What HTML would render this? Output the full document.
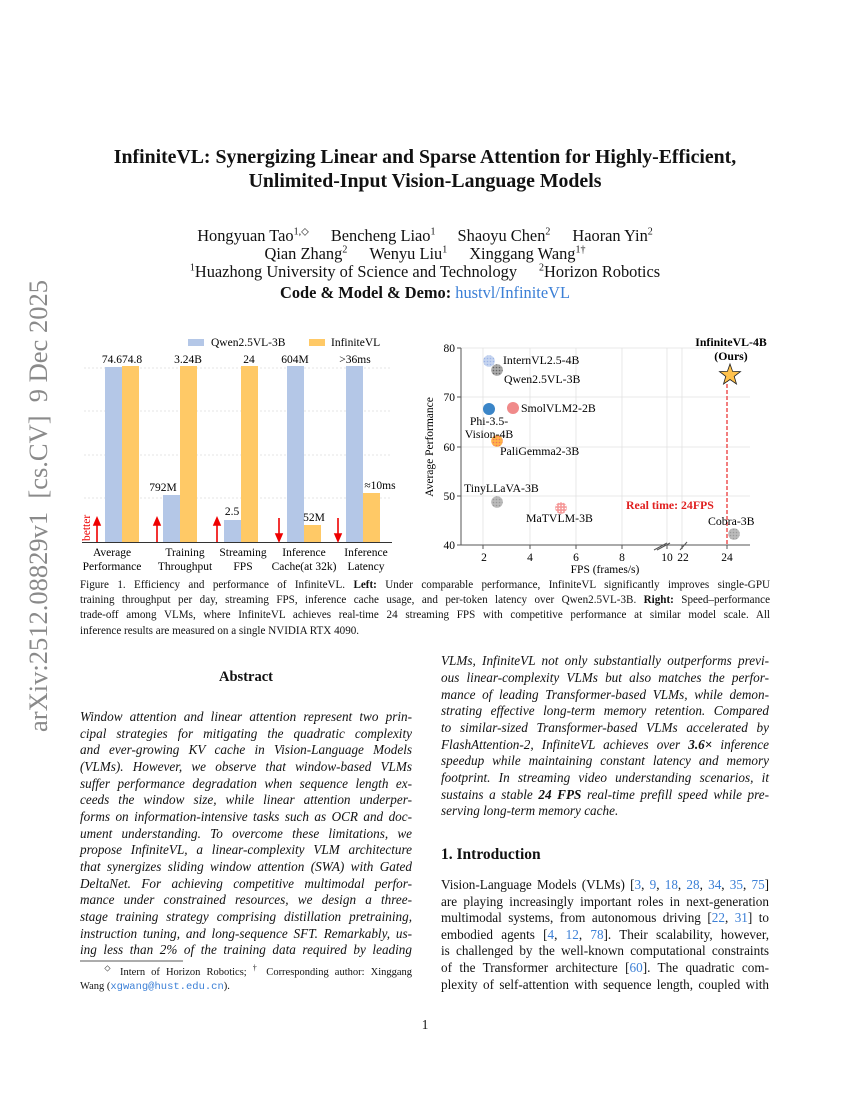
<!DOCTYPE html>
<html><head><meta charset="utf-8"><style>
html,body{margin:0;padding:0;background:#fff}
body{width:850px;height:1100px;position:relative;overflow:hidden;font-family:"Liberation Serif",serif;color:#111}
.l{position:absolute;line-height:16px;font-size:13.2px;white-space:nowrap}
.j{text-align:justify;text-align-last:justify}
.c{text-align:center}
.i{font-style:italic}
.L{left:80px;width:332px}
.R{left:441px;width:328px}
.cap{position:absolute;left:80px;width:690px;font-size:11.1px;line-height:15px;white-space:nowrap}
a,.b{color:#3b7fd6}
sup{font-size:10px;line-height:0}
.g{display:inline-block;width:22px}
</style></head><body>
<div class="l c" style="left:0;width:850px;top:145px;font-size:19.8px;line-height:24px;font-weight:bold">InfiniteVL: Synergizing Linear and Sparse Attention for Highly-Efficient,</div>
<div class="l c" style="left:0;width:850px;top:169px;font-size:19.8px;line-height:24px;font-weight:bold">Unlimited-Input Vision-Language Models</div>
<div class="l c" style="left:0;width:850px;top:226px;font-size:16.4px;line-height:19px">Hongyuan Tao<sup>1,◇</sup><span class="g"></span>Bencheng Liao<sup>1</sup><span class="g"></span>Shaoyu Chen<sup>2</sup><span class="g"></span>Haoran Yin<sup>2</sup></div>
<div class="l c" style="left:0;width:850px;top:244px;font-size:16.4px;line-height:19px">Qian Zhang<sup>2</sup><span class="g"></span>Wenyu Liu<sup>1</sup><span class="g"></span>Xinggang Wang<sup>1†</sup></div>
<div class="l c" style="left:0;width:850px;top:262px;font-size:16.4px;line-height:19px"><sup>1</sup>Huazhong University of Science and Technology<span class="g"></span><sup>2</sup>Horizon Robotics</div>
<div class="l c" style="left:0;width:850px;top:283px;font-size:16.4px;line-height:19px"><b>Code &amp; Model &amp; Demo:</b> <span class="b">hustvl/InfiniteVL</span></div>

<div style="position:absolute;left:38px;top:506px;width:0;height:0">
<div style="position:absolute;transform:translate(-50%,-50%) rotate(-90deg);white-space:nowrap;font-size:26.5px;color:#8a8a8a;line-height:30px">arXiv:2512.08829v1&nbsp; [cs.CV]&nbsp; 9 Dec 2025</div></div>

<svg width="850" height="1100" style="position:absolute;left:0;top:0" font-family="Liberation Serif, serif">
<defs>
<pattern id="dg" width="3" height="3" patternUnits="userSpaceOnUse"><rect width="3" height="3" fill="#aaa"/><circle cx="1.5" cy="1.5" r="0.8" fill="#666"/></pattern>
<pattern id="db" width="3" height="3" patternUnits="userSpaceOnUse"><rect width="3" height="3" fill="#c6d5f0"/><circle cx="1.5" cy="1.5" r="0.8" fill="#9db5e6"/></pattern>
<pattern id="dp" width="3" height="3" patternUnits="userSpaceOnUse"><rect width="3" height="3" fill="#f59a9a"/><circle cx="1.5" cy="1.5" r="0.8" fill="#fff"/></pattern>
<pattern id="do" width="3" height="3" patternUnits="userSpaceOnUse"><rect width="3" height="3" fill="#ffb347"/><circle cx="1.5" cy="1.5" r="0.8" fill="#f07060"/></pattern>
<pattern id="dc" width="3" height="3" patternUnits="userSpaceOnUse"><rect width="3" height="3" fill="#bbb"/><circle cx="1.5" cy="1.5" r="0.8" fill="#999"/></pattern>
</defs>
<rect x="188" y="339" width="16" height="7" fill="#b4c7e7"/><text x="211" y="346" font-size="11.5">Qwen2.5VL-3B</text>
<rect x="309" y="339" width="16" height="7" fill="#ffc966"/><text x="331" y="346" font-size="11.5">InfiniteVL</text>
<g stroke="#ddd" stroke-dasharray="2,2" stroke-width="0.8">
<line x1="84" x2="392" y1="368" y2="368"/><line x1="84" x2="392" y1="411" y2="411"/><line x1="84" x2="392" y1="455" y2="455"/><line x1="84" x2="392" y1="498" y2="498"/></g>
<g fill="#b4c7e7"><rect x="105" y="367" width="17" height="175"/><rect x="163" y="495" width="17" height="47"/><rect x="224" y="520" width="17" height="22"/><rect x="287" y="366" width="17" height="176"/><rect x="346" y="366" width="17" height="176"/></g>
<g fill="#ffc966"><rect x="122" y="366" width="17" height="176"/><rect x="180" y="366" width="17" height="176"/><rect x="241" y="366" width="17" height="176"/><rect x="304" y="525" width="17" height="17"/><rect x="363" y="493" width="17" height="49"/></g>
<line x1="82" x2="392" y1="542.5" y2="542.5" stroke="#333" stroke-width="1"/>
<g font-size="11.5" text-anchor="middle"><text x="122" y="363">74.674.8</text><text x="188" y="363">3.24B</text><text x="249" y="363">24</text><text x="295" y="363">604M</text><text x="355" y="363">&gt;36ms</text>
<text x="163" y="491">792M</text><text x="232" y="515">2.5</text><text x="314" y="521">52M</text><text x="380" y="489">≈10ms</text>
<text x="112" y="556">Average</text><text x="112" y="570">Performance</text><text x="185" y="556">Training</text><text x="185" y="570">Throughput</text><text x="243" y="556">Streaming</text><text x="243" y="570">FPS</text><text x="304" y="556">Inference</text><text x="304" y="570">Cache(at 32k)</text><text x="366" y="556">Inference</text><text x="366" y="570">Latency</text></g>
<g stroke="#e00" stroke-width="1.6" fill="#e00">
<line x1="97" y1="542" x2="97" y2="524"/><path d="M94,525 L97,518 L100,525Z"/>
<line x1="157" y1="542" x2="157" y2="524"/><path d="M154,525 L157,518 L160,525Z"/>
<line x1="217" y1="542" x2="217" y2="524"/><path d="M214,525 L217,518 L220,525Z"/>
<line x1="279" y1="518" x2="279" y2="535"/><path d="M276,534 L279,541 L282,534Z"/>
<line x1="338" y1="518" x2="338" y2="535"/><path d="M335,534 L338,541 L341,534Z"/></g>
<text transform="translate(90,541) rotate(-90)" font-size="11.5" fill="#e00">better</text>
<g stroke="#e2e2e2" stroke-width="0.8"><line x1="461" x2="750" y1="397" y2="397"/><line x1="461" x2="750" y1="447" y2="447"/><line x1="461" x2="750" y1="496" y2="496"/><line x1="461" x2="750" y1="348" y2="348"/>
<line x1="483" x2="483" y1="348" y2="545"/><line x1="530" x2="530" y1="348" y2="545"/><line x1="576" x2="576" y1="348" y2="545"/><line x1="622" x2="622" y1="348" y2="545"/><line x1="667" x2="667" y1="348" y2="545"/><line x1="682" x2="682" y1="348" y2="545"/></g>
<line x1="461" y1="348" x2="461" y2="545" stroke="#555"/><line x1="461" y1="545" x2="750" y2="545" stroke="#555"/>
<g stroke="#555"><line x1="457" x2="461" y1="348" y2="348"/><line x1="457" x2="461" y1="397" y2="397"/><line x1="457" x2="461" y1="447" y2="447"/><line x1="457" x2="461" y1="496" y2="496"/><line x1="457" x2="461" y1="545" y2="545"/>
<line x1="483" x2="483" y1="545" y2="549"/><line x1="530" x2="530" y1="545" y2="549"/><line x1="576" x2="576" y1="545" y2="549"/><line x1="622" x2="622" y1="545" y2="549"/><line x1="667" x2="667" y1="545" y2="549"/><line x1="682" x2="682" y1="545" y2="549"/><line x1="727" x2="727" y1="545" y2="549"/>
<line x1="654" y1="550" x2="667" y2="543"/><line x1="657" y1="550" x2="670" y2="543"/><line x1="680" y1="550" x2="687" y2="542"/></g>
<g font-size="11.5" text-anchor="end"><text x="455" y="352">80</text><text x="455" y="401">70</text><text x="455" y="451">60</text><text x="455" y="500">50</text><text x="455" y="549">40</text></g>
<g font-size="11.5" text-anchor="middle"><text x="484" y="561">2</text><text x="530" y="561">4</text><text x="576" y="561">6</text><text x="622" y="561">8</text><text x="667" y="561">10</text><text x="683" y="561">22</text><text x="727" y="561">24</text><text x="605" y="573">FPS (frames/s)</text></g>
<text transform="translate(433,447) rotate(-90)" font-size="11.5" text-anchor="middle">Average Performance</text>
<line x1="727" y1="378" x2="727" y2="545" stroke="#f07070" stroke-width="1.8" stroke-dasharray="4,2"/>
<circle cx="489" cy="361" r="5.8" fill="url(#db)"/><circle cx="497" cy="370" r="5.8" fill="url(#dg)"/>
<circle cx="489" cy="409" r="6" fill="#3a85c8"/><circle cx="513" cy="408" r="6" fill="#f08a8a"/>
<circle cx="497" cy="441" r="5.8" fill="url(#do)"/><circle cx="497" cy="502" r="5.8" fill="url(#dc)"/>
<circle cx="561" cy="508" r="5.8" fill="url(#dp)"/><circle cx="734" cy="534" r="5.8" fill="url(#dc)"/>
<path d="M730,364 L732.6,371.4 L740.5,371.6 L734.2,376.4 L736.5,384 L730,379.5 L723.5,384 L725.8,376.4 L719.5,371.6 L727.4,371.4Z" fill="#ffc24d" stroke="#222" stroke-width="0.8"/>
<g font-size="11.8"><text x="503" y="364">InternVL2.5-4B</text><text x="504" y="383">Qwen2.5VL-3B</text><text x="521" y="412">SmolVLM2-2B</text>
<text x="489" y="425" text-anchor="middle">Phi-3.5-</text><text x="489" y="438" text-anchor="middle">Vision-4B</text><text x="500" y="455">PaliGemma2-3B</text>
<text x="464" y="492">TinyLLaVA-3B</text><text x="526" y="522">MaTVLM-3B</text><text x="708" y="525">Cobra-3B</text></g>
<text x="626" y="509" font-size="11.8" font-weight="bold" fill="#e02020">Real time: 24FPS</text>
<text x="731" y="346" font-size="11.8" font-weight="bold" text-anchor="middle">InfiniteVL-4B</text>
<text x="731" y="360" font-size="11.8" font-weight="bold" text-anchor="middle">(Ours)</text>
<line x1="80" y1="961" x2="183" y2="961" stroke="#222" stroke-width="0.7"/>
</svg>

<div class="cap j" style="top:578px">Figure 1. Efficiency and performance of InfiniteVL. <b>Left:</b> Under comparable performance, InfiniteVL significantly improves single-GPU</div>
<div class="cap j" style="top:593px">training throughput per day, streaming FPS, inference cache usage, and per-token latency over Qwen2.5VL-3B. <b>Right:</b> Speed–performance</div>
<div class="cap j" style="top:608px">trade-off among VLMs, where InfiniteVL achieves real-time 24 streaming FPS with competitive performance at similar model scale. All</div>
<div class="cap" style="top:624px">inference results are measured on a single NVIDIA RTX 4090.</div>

<div class="l c L" style="top:669px;font-size:14.5px;font-weight:bold">Abstract</div>
<div class="l i j L" style="top:709px">Window attention and linear attention represent two prin-</div>
<div class="l i j L" style="top:726px">cipal strategies for mitigating the quadratic complexity</div>
<div class="l i j L" style="top:742px">and ever-growing KV cache in Vision-Language Models</div>
<div class="l i j L" style="top:759px">(VLMs). However, we observe that window-based VLMs</div>
<div class="l i j L" style="top:776px">suffer performance degradation when sequence length ex-</div>
<div class="l i j L" style="top:792px">ceeds the window size, while linear attention underper-</div>
<div class="l i j L" style="top:809px">forms on information-intensive tasks such as OCR and doc-</div>
<div class="l i j L" style="top:826px">ument understanding. To overcome these limitations, we</div>
<div class="l i j L" style="top:842px">propose InfiniteVL, a linear-complexity VLM architecture</div>
<div class="l i j L" style="top:859px">that synergizes sliding window attention (SWA) with Gated</div>
<div class="l i j L" style="top:876px">DeltaNet. For achieving competitive multimodal perfor-</div>
<div class="l i j L" style="top:892px">mance under constrained resources, we design a three-</div>
<div class="l i j L" style="top:909px">stage training strategy comprising distillation pretraining,</div>
<div class="l i j L" style="top:926px">instruction tuning, and long-sequence SFT. Remarkably, us-</div>
<div class="l i j L" style="top:942px">ing less than 2% of the training data required by leading</div>
<div class="l j L" style="top:966px;font-size:10.5px;line-height:14px">&nbsp;&nbsp;&nbsp;&nbsp;<sup style="font-size:8px">◇</sup> Intern of Horizon Robotics; <sup style="font-size:8px">†</sup> Corresponding author: Xinggang</div>
<div class="l L" style="top:980px;font-size:10.5px;line-height:14px">Wang (<span class="b" style="font-family:'Liberation Mono',monospace">xgwang@hust.edu.cn</span>).</div>

<div class="l i j R" style="top:653px">VLMs, InfiniteVL not only substantially outperforms previ-</div>
<div class="l i j R" style="top:670px">ous linear-complexity VLMs but also matches the perfor-</div>
<div class="l i j R" style="top:687px">mance of leading Transformer-based VLMs, while demon-</div>
<div class="l i j R" style="top:703px">strating effective long-term memory retention. Compared</div>
<div class="l i j R" style="top:720px">to similar-sized Transformer-based VLMs accelerated by</div>
<div class="l i j R" style="top:737px">FlashAttention-2, InfiniteVL achieves over <b>3.6×</b> inference</div>
<div class="l i j R" style="top:753px">speedup while maintaining constant latency and memory</div>
<div class="l i j R" style="top:770px">footprint. In streaming video understanding scenarios, it</div>
<div class="l i j R" style="top:787px">sustains a stable <b>24 FPS</b> real-time prefill speed while pre-</div>
<div class="l i R" style="top:803px">serving long-term memory cache.</div>
<div class="l R" style="top:847px;font-size:15.5px;font-weight:bold">1. Introduction</div>
<div class="l j R" style="top:877px">Vision-Language Models (VLMs) [<a>3</a>, <a>9</a>, <a>18</a>, <a>28</a>, <a>34</a>, <a>35</a>, <a>75</a>]</div>
<div class="l j R" style="top:894px">are playing increasingly important roles in next-generation</div>
<div class="l j R" style="top:910px">multimodal systems, from autonomous driving [<a>22</a>, <a>31</a>] to</div>
<div class="l j R" style="top:927px">embodied agents [<a>4</a>, <a>12</a>, <a>78</a>]. Their scalability, however,</div>
<div class="l j R" style="top:943px">is challenged by the well-known computational constraints</div>
<div class="l j R" style="top:960px">of the Transformer architecture [<a>60</a>]. The quadratic com-</div>
<div class="l j R" style="top:977px">plexity of self-attention with sequence length, coupled with</div>
<div class="l c" style="left:0;width:850px;top:1017px">1</div>
</body></html>
